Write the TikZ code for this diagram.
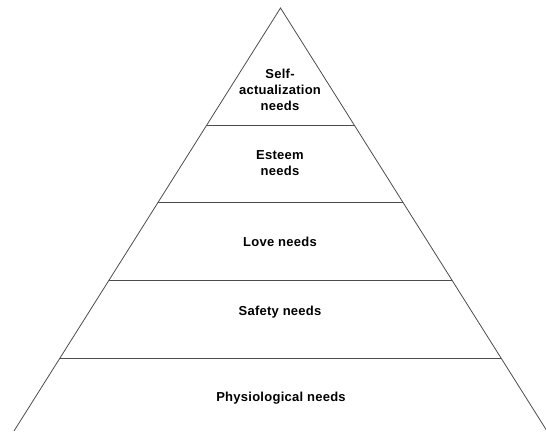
\documentclass[tikz,border=0pt]{standalone}
\usepackage{fontspec}
\setmainfont{Liberation Sans}[LetterSpace=2]
\usetikzlibrary{calc}
\begin{document}
\begin{tikzpicture}[x=1pt,y=1pt,font=\bfseries\fontsize{13}{16}\selectfont,
    level/.style={draw=black!70,line width=0.8pt},
    label/.style={align=center,inner sep=0pt}]
    \clip (0,0) rectangle (546,431);
    \coordinate (Apex) at (280.5,423);
    \coordinate (BaseL) at (14,0);
    \coordinate (BaseR) at (547,0);
    \draw [level] (BaseL) -- (Apex) -- (BaseR);
    \foreach \f in {0.2766,0.4586,0.643,0.8274}
        \draw [level] ($(Apex)!\f!(BaseL)$) -- ($(Apex)!\f!(BaseR)$);
    \node [label] (Self) at (280,341) {Self-\\actualization\\needs};
    \node [label] (Esteem) at (280,268) {Esteem\\needs};
    \node [label] (Love) at (280,189) {Love needs};
    \node [label] (Safety) at (280,119) {Safety needs};
    \node [label] (Phys) at (281,33) {Physiological needs};
\end{tikzpicture}
\end{document}
